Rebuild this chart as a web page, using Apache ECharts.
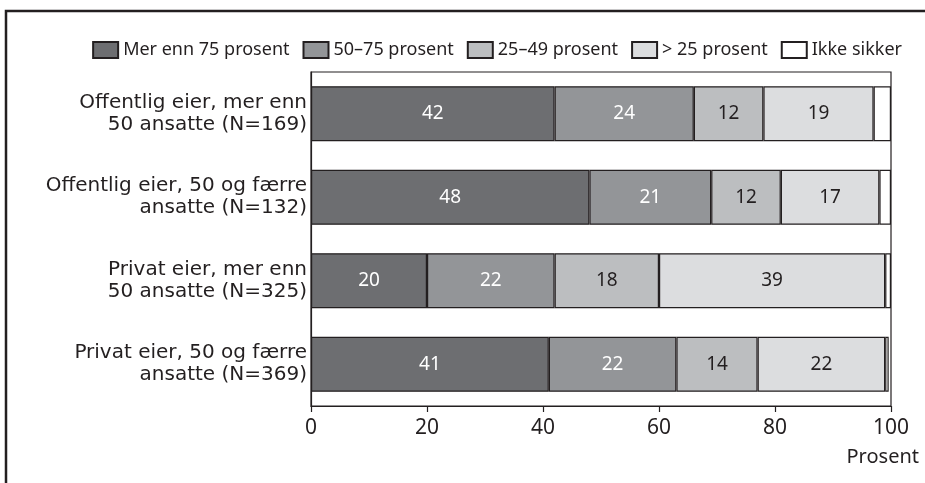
<!DOCTYPE html>
<html>
<head>
<meta charset="utf-8">
<script src="https://cdn.jsdelivr.net/npm/echarts@6/dist/echarts.min.js"></script>
<style>
  html, body { margin: 0; padding: 0; background: #fff; }
  #chart { width: 925px; height: 483px; }
</style>
</head>
<body>
<div id="chart"></div>
<script>
// Employer groups (y axis, top to bottom)
const categories = [
  'Offentlig eier, mer enn\n50 ansatte (N=169)',
  'Offentlig eier, 50 og færre\nansatte (N=132)',
  'Privat eier, mer enn\n50 ansatte (N=325)',
  'Privat eier, 50 og færre\nansatte (N=369)'
];

// Share of answers per group, in percent
const merEnn75 = [42, 48, 20, 41];
const fra50til75 = [24, 21, 22, 22];
const fra25til49 = [12, 12, 18, 14];
const under25 = [19, 17, 39, 22];
const ikkeSikker = [3, 2, 1, 0.6];

const seriesNames = ['Mer enn 75 prosent', '50–75 prosent', '25–49 prosent', '> 25 prosent', 'Ikke sikker'];
const xTicks = [0, 20, 40, 60, 80, 100];

const fills = ['#6d6e71', '#939598', '#bcbec0', '#dcdddf', '#ffffff'];
const labelColors = ['#ffffff', '#ffffff', '#231f20', '#231f20', '#231f20'];
const values = [merEnn75, fra50til75, fra25til49, under25, ikkeSikker];
const font = 'Noto Sans';
const wideFont = 'DejaVu Sans';

const series = values.map((data, i) => ({
  name: seriesNames[i],
  type: 'bar',
  stack: 'total',
  barWidth: 55,
  data: data,
  itemStyle: { color: fills[i], borderColor: '#231f20', borderWidth: 1.2 },
  label: {
    show: i < 4,
    position: 'inside',
    color: labelColors[i],
    fontFamily: font,
    fontSize: 19
  },
  emphasis: { disabled: true }
}));

const chart = echarts.init(document.getElementById('chart'), null, { renderer: 'canvas' });
chart.setOption({
  animation: false,
  backgroundColor: '#ffffff',
  textStyle: { fontFamily: font },
  graphic: [{
    type: 'rect',
    shape: { x: 6, y: 11, width: 1200, height: 1000 },
    style: { fill: 'none', stroke: '#231f20', lineWidth: 2.5 },
    silent: true
  }],
  legend: {
    data: seriesNames,
    right: 18,
    top: 36,
    itemWidth: 25,
    itemHeight: 16,
    itemGap: 13,
    icon: 'rect',
    textStyle: { fontFamily: font, fontSize: 18, color: '#231f20' },
    selectedMode: false
  },
  grid: {
    left: 311,
    right: 34,
    top: 72,
    bottom: 77,
    show: true,
    borderColor: '#231f20',
    borderWidth: 1.2,
    containLabel: false
  },
  xAxis: {
    type: 'value',
    min: xTicks[0],
    max: xTicks[xTicks.length - 1],
    interval: 20,
    name: 'Prosent',
    nameLocation: 'end',
    nameGap: 28,
    nameTextStyle: {
      fontFamily: font, fontSize: 20, color: '#231f20',
      align: 'right', verticalAlign: 'top', padding: [41, 0, 0, 0]
    },
    axisLine: { show: true, lineStyle: { color: '#231f20', width: 1.2 } },
    axisTick: { show: true, length: 6, lineStyle: { color: '#231f20', width: 1.2 } },
    axisLabel: { fontFamily: font, fontSize: 21, color: '#231f20', margin: 12 },
    splitLine: { show: false }
  },
  yAxis: {
    type: 'category',
    inverse: true,
    data: categories,
    axisLine: { show: true, lineStyle: { color: '#231f20', width: 1.2 } },
    axisTick: { show: false },
    axisLabel: {
      fontFamily: wideFont, fontSize: 20, lineHeight: 22,
      color: '#231f20', margin: 4, align: 'right'
    }
  },
  series: series
});
</script>
</body>
</html>
